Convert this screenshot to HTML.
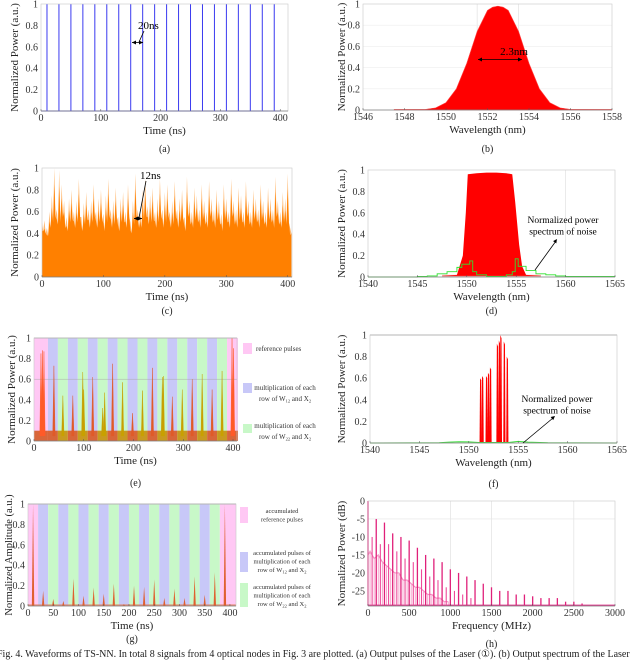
<!DOCTYPE html>
<html><head><meta charset="utf-8">
<style>
html,body{margin:0;padding:0;background:#fff;width:640px;height:661px;overflow:hidden}
svg, svg text{font-family:"Liberation Serif","DejaVu Serif",serif}
svg{display:block}
</style></head>
<body>
<svg id="fig" width="640" height="661" viewBox="0 0 640 661" font-family="Liberation Serif, serif" xmlns="http://www.w3.org/2000/svg">
<text x="-3" y="657" font-size="10" fill="#222" font-family="Liberation Serif, serif" style="white-space:pre">Fig. 4. Waveforms of TS-NN. In total 8 signals from 4 optical nodes in Fig. 3 are plotted. (a) Output pulses of the Laser (①). (b) Output spectrum of the Laser</text>
</svg>
<script>
// ---- data ----
const aPulseTimes = [10,30,50,70,90,110,130,150,170,190,210,230,250,270,290,310,330,350,370,390];
const aPulseHeights = [1,1,1,1,1,1,1,1,1,1,1,1,1,1,1,1,1,1,1,1];
const bWavelengths = [1547.5,1549,1549.5,1550,1550.5,1551,1551.5,1552,1552.25,1552.5,1552.75,1553,1553.5,1554,1554.5,1555,1555.5,1556,1558];
const bPower = [0.005,0.006,0.02,0.07,0.2,0.44,0.74,0.94,0.97,0.98,0.97,0.94,0.74,0.44,0.2,0.07,0.02,0.006,0.005];
const cPeaks = [0.5,0.52,0.45,0.6,0.75,1.0,0.62,0.98,0.85,0.7,0.55,0.72,0.8,0.6,0.7,0.9,0.55,0.68,0.78,0.62,0.7,0.85,0.6,0.72,0.8,0.58,0.75,0.9,0.62,0.7,0.82,0.55,0.72,0.78,0.6,0.85,0.5,0.7,0.95,0.62,0.6,0.8,0.9,0.65,0.75,0.82,0.6,0.72,0.9,0.62,0.78,0.85,0.6,0.7,0.88,0.62,0.72,0.8,0.55,0.92,0.7,0.6,0.82,0.75,0.62,0.85,0.7,0.6,0.88,0.72,0.62,0.8,0.7,0.58,0.85,0.72,0.6,0.9,0.7,0.62,0.82,0.75,0.6,0.88,0.7,0.6,0.8,0.72,0.62,0.85,0.7,0.6,0.82,0.72,0.62,0.92,0.7,0.6,0.78,0.72,0.95,0.45];
const cValleys = [0.42,0.4,0.38,0.45,0.5,0.55,0.48,0.5,0.55,0.45,0.42,0.5,0.52,0.45,0.5,0.55,0.42,0.48,0.52,0.45,0.5,0.55,0.45,0.5,0.52,0.42,0.5,0.55,0.45,0.48,0.52,0.42,0.5,0.5,0.45,0.55,0.4,0.48,0.55,0.45,0.45,0.52,0.55,0.48,0.5,0.52,0.45,0.5,0.55,0.45,0.5,0.55,0.45,0.48,0.55,0.45,0.5,0.52,0.42,0.55,0.48,0.45,0.52,0.5,0.45,0.52,0.48,0.45,0.55,0.5,0.45,0.52,0.48,0.42,0.52,0.5,0.45,0.55,0.48,0.45,0.52,0.5,0.45,0.55,0.48,0.45,0.52,0.5,0.45,0.52,0.48,0.45,0.52,0.5,0.45,0.55,0.48,0.45,0.5,0.48,0.5,0.4];
const dSignalWl = [1547.5,1549,1549.6,1549.9,1550.1,1551,1552,1553,1554,1554.6,1554.9,1555.3,1555.6,1556,1557.5];
const dSignalP = [0.01,0.02,0.2,0.6,0.96,0.97,0.975,0.975,0.97,0.96,0.7,0.3,0.1,0.02,0.01];
const dNoiseWl = [1540,1545,1546,1547,1548,1549,1549.5,1550,1550.3,1550.6,1551,1552,1553,1554,1554.6,1554.9,1555.2,1556,1557,1558,1559,1560,1565];
const dNoiseP = [0,0.005,0.01,0.03,0.05,0.09,0.12,0.12,0.15,0.05,0.02,0.005,0.005,0.02,0.05,0.17,0.1,0.06,0.03,0.02,0.01,0.005,0];
const eBandEdges = [0,28,48,68,88,108,128,148,168,188,208,228,248,268,288,308,328,348,368,388,410];
const eBandKinds = ["ref","w12","w22","w12","w22","w12","w22","w12","w22","w12","w22","w12","w22","w12","w22","w12","w22","w12","w22","ref"];
const eSpikeTimes = [14,17,20,40,58,78,98,100,118,138,142,158,178,198,218,238,258,260,278,298,318,338,358,378,398,401];
const eSpikeHeights = [0.85,0.88,0.87,0.73,0.44,0.44,0.67,0.5,0.62,0.32,0.47,0.75,0.57,0.27,0.49,0.71,0.62,0.63,0.43,0.5,0.6,0.65,0.5,0.68,1.0,0.9];
const fLineWl = [1551.2,1551.4,1551.8,1552.0,1552.2,1552.9,1553.1,1553.25,1553.6,1553.9];
const fLineP = [0.6,0.62,0.62,0.65,0.7,0.92,0.95,1.0,0.94,0.8];
const fNoiseWl = [1540,1547,1548,1549,1550,1551,1554,1555,1556,1558,1565];
const fNoiseP = [0,0.002,0.008,0.012,0.01,0.005,0.005,0.015,0.008,0.002,0];
const gBandEdges = [0,20,40,60,80,100,120,140,160,180,200,220,240,260,280,300,320,340,360,380,412];
const gBandKinds = ["ref","w12","w22","w12","w22","w12","w22","w12","w22","w12","w22","w12","w22","w12","w22","w12","w22","w12","w22","ref"];
const gSpikeTimes = [10,30,50,70,90,110,130,150,170,190,210,230,250,270,290,310,330,350,370,390];
const gSpikeHeights = [1.0,0.15,0.07,0.05,0.27,0.1,0.18,0.12,0.22,0.02,0.2,0.19,0.26,0.08,0.17,0.08,0.29,0.11,0.33,1.0];
const hMainFreq = [0,100,200,300,400,500,600,700,800,900,1000,1100,1200,1300,1400,1500,1600,1700,1800,1900,2000,2100,2200,2300,2400,2500,2600];
const hMainDb = [0,-5,-6,-9,-10,-11,-13,-15,-16,-17,-19,-20,-21,-22,-23,-24,-25,-25,-26,-26,-26.5,-27,-27,-27,-28,-28,-28.5];
const hSideFreq = [50,150,250,350,450,550,650,750,850,950,1050,1150,1250];
const hSideDb = [-10,-12,-12,-14,-16,-17,-19,-21,-22,-24,-25,-26,-27];
const hNoiseFreq = [0,25,75,125,175,225,275,325,375,425,475,525,575,625,675,725,775,825,875,925,975];
const hNoiseDb = [-15,-14,-16,-15,-17,-18,-19,-20,-20,-22,-22,-23,-24,-24,-25,-26,-26,-27,-27,-28,-28];

const NS="http://www.w3.org/2000/svg";
const svg=document.getElementById('fig');
function el(tag,attrs,parent,txt){const e=document.createElementNS(NS,tag);for(const k in attrs)e.setAttribute(k,attrs[k]);if(tag==='text')e.setAttribute('font-family','Liberation Serif, serif');if(txt!==undefined)e.textContent=txt;(parent||svg).appendChild(e);return e;}

function panel(id,c){
  const g=el('g',{});
  
  
  const sx=v=>c.x0+(v-c.xmin)/(c.xmax-c.xmin)*(c.x1-c.x0);
  const sy=v=>c.y1-(v-c.ymin)/(c.ymax-c.ymin)*(c.y1-c.y0);
  const plot=el('g',{},g);
  
  
  const ax=el('g',{},g);
  
  
  el('rect',{x:c.x0,y:c.y0,width:c.x1-c.x0,height:c.y1-c.y0,fill:'none',stroke:'#c8c8c8','stroke-width':0.6},ax);
  el('line',{x1:c.x0,y1:c.y1,x2:c.x1,y2:c.y1,stroke:'#555','stroke-width':0.6},ax);
  c.xticks.forEach(t=>{const x=sx(t);
    el('line',{x1:x,y1:c.y1,x2:x,y2:c.y1-2,stroke:'#555','stroke-width':0.5},ax);
    const l=el('text',{x:x,y:c.y1+10,'font-size':10,'text-anchor':'middle',fill:'#333'},ax,String(t));
    
    });
  c.yticks.forEach(t=>{const y=sy(t);
    const l=el('text',{x:c.x0-3,y:y+3.5,'font-size':10,'text-anchor':'end',fill:'#333'},ax,String(t));
    
    });
  const xt=el('text',{x:(c.x0+c.x1)/2,y:c.y1+23,'font-size':11,'text-anchor':'middle',fill:'#222'},ax,c.xlabel);
  
  
  const yc=(c.y0+c.y1)/2;
  const yt=el('text',{x:c.ylx,y:yc,'font-size':c.ylfs||11,'text-anchor':'middle',fill:'#222',transform:`rotate(-90 ${c.ylx} ${yc})`},ax,c.ylabel);
  
  
  const st=el('text',{x:(c.x0+c.x1)/2,y:c.suby,'font-size':10,'text-anchor':'middle',fill:'#222'},g,'('+id+')');
  
  
  return {g,plot,ax,sx,sy};
}
function arrowHead(p,x,y,ang,col){const a=ang,l=4,w=2;
  el('polygon',{points:`${x},${y} ${x-l*Math.cos(a)+w*Math.sin(a)},${y-l*Math.sin(a)-w*Math.cos(a)} ${x-l*Math.cos(a)-w*Math.sin(a)},${y-l*Math.sin(a)+w*Math.cos(a)}`,fill:col||'#000'},p);}

// (a)
{const P=panel('a',{x0:41,x1:288,y0:4,y1:111,xmin:0,xmax:413,ymin:0,ymax:1,xticks:[0,100,200,300,400],yticks:[0,0.2,0.4,0.6,0.8,1],xlabel:'Time (ns)',ylabel:'Normalized Power (a.u.)',ylx:18,suby:152});
 aPulseTimes.forEach((t,i)=>{const l=el('line',{x1:P.sx(t),y1:P.sy(0),x2:P.sx(t),y2:P.sy(aPulseHeights[i]),stroke:'#3a3af0','stroke-width':1},P.plot);
   
   });
 el('line',{x1:P.sx(0),y1:P.sy(0),x2:P.sx(400),y2:P.sy(0),stroke:'#3a3af0','stroke-width':1},P.plot);
 const t=el('text',{x:138,y:29,'font-size':11},P.g,'20ns');
 
 
 el('line',{x1:144,y1:31,x2:139,y2:42,stroke:'#000','stroke-width':0.8},P.g);
 el('line',{x1:132,y1:42.5,x2:143,y2:42.5,stroke:'#000','stroke-width':0.8},P.g);
 arrowHead(P.g,132,42.5,Math.PI);arrowHead(P.g,143,42.5,0);}

// (b)
{const P=panel('b',{x0:363,x1:612,y0:4,y1:110,xmin:1546,xmax:1558,ymin:0,ymax:1,xticks:[1546,1548,1550,1552,1554,1556,1558],yticks:[0,0.2,0.4,0.6,0.8,1],xlabel:'Wavelength (nm)',ylabel:'Normalized Power (a.u.)',ylx:345,suby:152});
 [1551.5,1553.5].forEach(v=>el('line',{x1:P.sx(v),y1:4,x2:P.sx(v),y2:110,stroke:'#ddd','stroke-width':0.6},P.plot));
 [0.2,0.4,0.6,0.8].forEach(v=>el('line',{x1:363,y1:P.sy(v),x2:612,y2:P.sy(v),stroke:'#eee','stroke-width':0.6},P.plot));
 let pts=bWavelengths.map((w,i)=>P.sx(w)+','+P.sy(bPower[i])).join(' ');
 pts+=` ${P.sx(1558)},${P.sy(0)} ${P.sx(1547.5)},${P.sy(0)}`;
 const s=el('polygon',{points:pts,fill:'#ff0000',stroke:'#ff4040','stroke-width':0.6,'stroke-linejoin':'round'},P.plot);
 
 
 const t=el('text',{x:514,y:55,'font-size':11,'text-anchor':'middle'},P.g,'2.3nm');
 
 
 el('line',{x1:478,y1:59.5,x2:522,y2:59.5,stroke:'#000','stroke-width':0.8},P.g);
 arrowHead(P.g,478,59.5,Math.PI);arrowHead(P.g,522,59.5,0);}

// (c)
{const P=panel('c',{x0:42,x1:292,y0:168,y1:277,xmin:0,xmax:407,ymin:0,ymax:1,xticks:[0,100,200,300,400],yticks:[0,0.2,0.4,0.6,0.8,1],xlabel:'Time (ns)',ylabel:'Normalized Power (a.u.)',ylx:18,suby:314});
 let light=`${P.sx(0)},${P.sy(0)} `, solid=`${P.sx(0)},${P.sy(0)} `;
 cPeaks.forEach((v,i)=>{const t=i*4;light+=`${P.sx(t)},${P.sy(v)} ${P.sx(t+2)},${P.sy(cValleys[i])} `;
   solid+=`${P.sx(t)},${P.sy(v*0.85)} ${P.sx(t+2)},${P.sy(cValleys[i])} `;});
 const last=(cPeaks.length-1)*4+2;
 light+=`${P.sx(last)},${P.sy(0)}`;solid+=`${P.sx(last)},${P.sy(0)}`;
 el('polygon',{points:light,fill:'#ffb870'},P.plot);
 const s=el('polygon',{points:solid,fill:'#ff8000'},P.plot);
 
 
 const t=el('text',{x:140,y:179,'font-size':11},P.g,'12ns');
 
 
 el('line',{x1:146,y1:181,x2:139,y2:218,stroke:'#000','stroke-width':0.8},P.g);
 el('line',{x1:134,y1:218.5,x2:142,y2:218.5,stroke:'#000','stroke-width':0.8},P.g);
 arrowHead(P.g,134,218.5,Math.PI);arrowHead(P.g,142,218.5,0);}

// (d)
{const P=panel('d',{x0:368,x1:615,y0:170,y1:277,xmin:1540,xmax:1565,ymin:0,ymax:1,xticks:[1540,1545,1550,1555,1560,1565],yticks:[0,0.2,0.4,0.6,0.8,1],xlabel:'Wavelength (nm)',ylabel:'Normalized Power (a.u.)',ylx:345,suby:314});
 el('line',{x1:P.sx(1560),y1:170,x2:P.sx(1560),y2:277,stroke:'#ddd','stroke-width':0.6},P.plot);
 el('rect',{x:P.sx(1547.5),y:P.sy(0.02),width:P.sx(1557.5)-P.sx(1547.5),height:P.sy(0)-P.sy(0.02),fill:'#f6a0a0'},P.plot);
 let pts=dSignalWl.map((w,i)=>P.sx(w)+','+P.sy(dSignalP[i])).join(' ');
 const s=el('polygon',{points:pts,fill:'#ff0000'},P.plot);
 
 
 let d='M'+P.sx(dNoiseWl[0])+','+P.sy(dNoiseP[0]);
 for(let i=1;i<dNoiseWl.length;i++){d+=' H'+P.sx(dNoiseWl[i])+' V'+P.sy(dNoiseP[i]);}
 const n=el('path',{d:d,fill:'none',stroke:'#30e030','stroke-width':0.9},P.plot);
 
 
 const t=el('text',{x:563,y:223,'font-size':9.5,'text-anchor':'middle'},P.g);
 
 
 el('tspan',{x:563},t,'Normalized power');el('tspan',{x:563,dy:11.5},t,'spectrum of noise');
 el('line',{x1:535,y1:270,x2:556,y2:241,stroke:'#000','stroke-width':0.8},P.g);
 arrowHead(P.g,557,239,Math.atan2(-31,22));}

// (e)
{const P=panel('e',{x0:34,x1:237,y0:338,y1:441,xmin:0,xmax:408,ymin:0,ymax:1,xticks:[0,100,200,300,400],yticks:[0,0.2,0.4,0.6,0.8,1],xlabel:'Time (ns)',ylabel:'Normalized Power (a.u.)',ylx:15,suby:486});
 const col={ref:'#ffc8f4',w12:'#c8c8f8',w22:'#c8f8c8'};
 const sp={ref:'#ff5a28',w12:'#e05a28',w22:'#c8a000'};
 eBandKinds.forEach((k,i)=>{const r=el('rect',{x:P.sx(eBandEdges[i]),y:338,width:P.sx(eBandEdges[i+1])-P.sx(eBandEdges[i]),height:103,fill:col[k]},P.plot);
   
   });
 el('line',{x1:34,y1:P.sy(0.6),x2:237,y2:P.sy(0.6),stroke:'#aaa','stroke-width':0.5},P.plot);
 el('line',{x1:34,y1:338,x2:237,y2:338,stroke:'#888','stroke-width':0.8},P.plot);
 eBandKinds.forEach((k,i)=>{el('rect',{x:P.sx(eBandEdges[i]),y:P.sy(0.1),width:P.sx(eBandEdges[i+1])-P.sx(eBandEdges[i]),height:P.sy(0)-P.sy(0.1),fill:k==='w22'?'#c89a20':'#d8663a'},P.plot);});
 eSpikeTimes.forEach((t,i)=>{const idx=eBandEdges.findIndex((e,j)=>t>=e&&t<eBandEdges[j+1]);const k=eBandKinds[Math.max(0,idx)];
   const x=P.sx(t);const p=el('polygon',{points:`${x-1.2},${P.sy(0.05)} ${x},${P.sy(eSpikeHeights[i])} ${x+1.2},${P.sy(0.05)}`,fill:sp[k],stroke:sp[k],'stroke-width':0.4},P.plot);
   
   });
 const lg=el('g',{},P.g);
 
 
 el('rect',{x:243,y:343,width:9,height:11,fill:'#ffc8f4'},lg);
 el('text',{x:256,y:351,'font-size':7,fill:'#333'},lg,'reference pulses');
 el('rect',{x:243,y:383,width:9,height:10,fill:'#c8c8f8'},lg);
 let t1=el('text',{x:285,y:390,'font-size':7,fill:'#333','text-anchor':'middle'},lg);
 el('tspan',{x:285},t1,'multiplication of each');el('tspan',{x:285,dy:11},t1,'row of W');el('tspan',{'font-size':4.5,dy:1.5},t1,'12');el('tspan',{dy:-1.5},t1,' and X');el('tspan',{'font-size':4.5,dy:1.5},t1,'2');
 el('rect',{x:243,y:424,width:9,height:9,fill:'#c8f8c8'},lg);
 let t2=el('text',{x:285,y:428,'font-size':7,fill:'#333','text-anchor':'middle'},lg);
 el('tspan',{x:285},t2,'multiplication of each');el('tspan',{x:285,dy:11},t2,'row of W');el('tspan',{'font-size':4.5,dy:1.5},t2,'22');el('tspan',{dy:-1.5},t2,' and X');el('tspan',{'font-size':4.5,dy:1.5},t2,'2');}

// (f)
{const P=panel('f',{x0:370,x1:617,y0:335,y1:443,xmin:1540,xmax:1565,ymin:0,ymax:1,xticks:[1540,1545,1550,1555,1560,1565],yticks:[0,0.2,0.4,0.6,0.8,1],xlabel:'Wavelength (nm)',ylabel:'Normalized Power (a.u.)',ylx:345,suby:487});
 el('line',{x1:370,y1:335,x2:617,y2:335,stroke:'#999','stroke-width':1},P.plot);
 fLineWl.forEach((w,i)=>{const x=P.sx(w);const p=el('polygon',{points:`${x-1.1},${P.sy(0)} ${x-0.6},${P.sy(fLineP[i])} ${x+0.6},${P.sy(fLineP[i]*0.97)} ${x+1.1},${P.sy(0)}`,fill:'#ff0000'},P.plot);
   
   });
 const n=el('polyline',{points:fNoiseWl.map((w,i)=>P.sx(w)+','+P.sy(fNoiseP[i])).join(' '),fill:'none',stroke:'#40e040','stroke-width':1},P.plot);
 
 
 const t=el('text',{x:557,y:402,'font-size':9.5,'text-anchor':'middle'},P.g);
 
 
 el('tspan',{x:557},t,'Normalized power');el('tspan',{x:557,dy:11.5},t,'spectrum of noise');
 el('line',{x1:523,y1:443,x2:553,y2:418,stroke:'#000','stroke-width':0.8},P.g);
 arrowHead(P.g,555,416,Math.atan2(-25,30));}

// (g)
{const P=panel('g',{x0:28,x1:236,y0:504,y1:606,xmin:0,xmax:412,ymin:0,ymax:1,xticks:[0,50,100,150,200,250,300,350,400],yticks:[0,0.2,0.4,0.6,0.8,1],xlabel:'Time (ns)',ylabel:'Normalized Amplitude (a.u.)',ylx:12,ylfs:10.5,suby:642});
 const col={ref:'#ffc8f4',w12:'#c8c8f8',w22:'#c8f8c8'};
 gBandKinds.forEach((k,i)=>{const r=el('rect',{x:P.sx(gBandEdges[i]),y:504,width:P.sx(gBandEdges[i+1])-P.sx(gBandEdges[i]),height:102,fill:col[k]},P.plot);
   
   });
 el('line',{x1:28,y1:504,x2:236,y2:504,stroke:'#999','stroke-width':1},P.plot);
 el('line',{x1:28,y1:P.sy(0.01),x2:236,y2:P.sy(0.01),stroke:'#e08060','stroke-width':1},P.plot);
 gSpikeTimes.forEach((t,i)=>{const x=P.sx(t);const p=el('polygon',{points:`${x-1.2},${P.sy(0)} ${x},${P.sy(gSpikeHeights[i])} ${x+1.2},${P.sy(0)}`,fill:'#e06030'},P.plot);
   
   });
 const lg=el('g',{},P.g);
 
 
 el('rect',{x:240,y:507,width:8,height:16,fill:'#ffc8f4'},lg);
 let a=el('text',{x:282,y:513,'font-size':6.5,fill:'#333','text-anchor':'middle'},lg);
 el('tspan',{x:282},a,'accumulated');el('tspan',{x:282,dy:8.5},a,'reference pulses');
 el('rect',{x:240,y:552,width:8,height:20,fill:'#c8c8f8'},lg);
 let b=el('text',{x:282,y:555,'font-size':6.5,fill:'#333','text-anchor':'middle'},lg);
 el('tspan',{x:282},b,'accumulated pulses of');el('tspan',{x:282,dy:8.5},b,'multiplication of each');el('tspan',{x:282,dy:8.5},b,'row of W');el('tspan',{'font-size':4.5,dy:1.5},b,'12');el('tspan',{dy:-1.5},b,' and X');el('tspan',{'font-size':4.5,dy:1.5},b,'2');
 el('rect',{x:240,y:583,width:8,height:24,fill:'#c8f8c8'},lg);
 let c=el('text',{x:282,y:589,'font-size':6.5,fill:'#333','text-anchor':'middle'},lg);
 el('tspan',{x:282},c,'accumulated pulses of');el('tspan',{x:282,dy:8.5},c,'multiplication of each');el('tspan',{x:282,dy:8.5},c,'row of W');el('tspan',{'font-size':4.5,dy:1.5},c,'22');el('tspan',{dy:-1.5},c,' and X');el('tspan',{'font-size':4.5,dy:1.5},c,'2');}

// (h)
{const P=panel('h',{x0:368,x1:615,y0:501,y1:606,xmin:0,xmax:3000,ymin:-29.2,ymax:0,xticks:[0,500,1000,1500,2000,2500,3000],yticks:[0,-5,-10,-15,-20,-25],xlabel:'Frequency (MHz)',ylabel:'Normalized Power (dB)',ylx:345,suby:647});
 [1000,1500,2500].forEach(v=>el('line',{x1:P.sx(v),y1:501,x2:P.sx(v),y2:606,stroke:'#ddd','stroke-width':0.6},P.plot));
 el('line',{x1:368,y1:P.sy(-5),x2:615,y2:P.sy(-5),stroke:'#e4e4e4','stroke-width':0.6},P.plot);
 const nz=el('polyline',{points:hNoiseFreq.map((f,i)=>P.sx(f)+','+P.sy(hNoiseDb[i])).join(' '),fill:'none',stroke:'#f48cc0','stroke-width':1.2},P.plot);
 
 
 hNoiseFreq.forEach((f,i)=>{el('line',{x1:P.sx(f),y1:P.sy(-29),x2:P.sx(f),y2:P.sy(hNoiseDb[i]),stroke:'#f7a8d0','stroke-width':1},P.plot);});
 el('line',{x1:P.sx(0),y1:P.sy(-29),x2:P.sx(3000),y2:P.sy(-29),stroke:'#e0308a','stroke-width':1.2},P.plot);
 hSideFreq.forEach((f,i)=>{const l=el('line',{x1:P.sx(f),y1:P.sy(-29),x2:P.sx(f),y2:P.sy(hSideDb[i]),stroke:'#ee4a9a','stroke-width':1.1},P.plot);
   
   });
 hMainFreq.forEach((f,i)=>{const l=el('line',{x1:P.sx(f),y1:P.sy(-29),x2:P.sx(f),y2:P.sy(hMainDb[i]),stroke:'#e0207a','stroke-width':1.3},P.plot);
   
   });}
</script>
</body></html>
